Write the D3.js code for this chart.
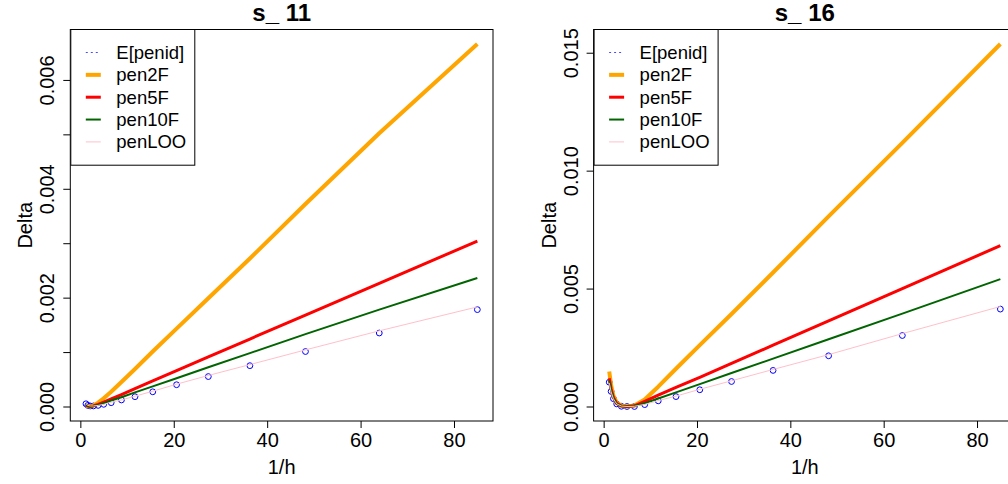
<!DOCTYPE html>
<html><head><meta charset="utf-8">
<script src="https://cdn.jsdelivr.net/npm/d3@7"></script>
<style>
html,body{margin:0;padding:0;background:#fff;}
svg{display:block;font-family:"Liberation Sans",Arial,Helvetica,sans-serif;}
</style></head>
<body><svg id="c" width="1008" height="484"></svg>
<script>
// ---- data ----
const xVals = [1.2, 1.6, 2.1, 2.8, 3.8, 5.0, 6.6, 8.8, 11.7, 15.5, 20.6, 27.4, 36.3, 48.2, 64, 85];

// panel s_ 11
const s11_Epenid = [0.00005,0.00002,0.00001,0.00001,0.00002,0.00004,0.00007,0.00012,0.00018,0.00027,0.00040,0.00055,0.00075,0.00101,0.00135,0.00178];
const s11_pen2F  = [0.00002,0.00001,0.00000,0.00002,0.00007,0.00015,0.00027,0.00045,0.00069,0.00101,0.00143,0.00199,0.00272,0.00372,0.00502,0.00666];
const s11_pen5F  = [0.00003,0.00001,0.00000,0.00001,0.00004,0.00008,0.00014,0.00022,0.00033,0.00047,0.00066,0.00091,0.00124,0.00168,0.00226,0.00304];
const s11_pen10F = [0.00003,0.00001,0.00000,0.00001,0.00003,0.00006,0.00011,0.00017,0.00026,0.00037,0.00052,0.00072,0.00098,0.00133,0.00178,0.00236];
const s11_penLOO = [0.00005,0.00002,0.00001,0.00001,0.00002,0.00004,0.00008,0.00012,0.00019,0.00028,0.00041,0.00057,0.00077,0.00104,0.00139,0.00183];

// panel s_ 16
const s16_Epenid = [0.00103,0.00064,0.00033,0.00011,0.00001,0.00000,0.00000,0.00008,0.00024,0.00042,0.00071,0.00106,0.00153,0.00215,0.00301,0.00413];
const s16_pen2F  = [0.00148,0.00090,0.00045,0.00016,0.00003,0.00000,0.00004,0.00030,0.00084,0.00160,0.00260,0.00392,0.00568,0.00806,0.01118,0.01537];
const s16_pen5F  = [0.00120,0.00075,0.00038,0.00013,0.00002,0.00000,0.00003,0.00022,0.00048,0.00081,0.00124,0.00183,0.00260,0.00363,0.00500,0.00682];
const s16_pen10F = [0.00110,0.00070,0.00036,0.00012,0.00002,0.00000,0.00002,0.00014,0.00034,0.00060,0.00095,0.00142,0.00203,0.00285,0.00394,0.00540];
const s16_penLOO = [0.00100,0.00062,0.00032,0.00011,0.00002,0.00000,0.00001,0.00009,0.00025,0.00044,0.00073,0.00109,0.00157,0.00220,0.00309,0.00424];

const xTicks = [0, 20, 40, 60, 80];
const s11_yTicks  = [0, 0.001, 0.002, 0.003, 0.004, 0.005, 0.006];
const s11_yLabels = ["0.000", "", "0.002", "", "0.004", "", "0.006"];
const s16_yTicks  = [0, 0.005, 0.010, 0.015];
const s16_yLabels = ["0.000", "0.005", "0.010", "0.015"];

const seriesNames = ["E[penid]", "pen2F", "pen5F", "pen10F", "penLOO"];
const seriesColors = ["#0000FF", "#FFA500", "#FF0000", "#006400", "#FFC0CB"];
const seriesWidths = [1, 4, 3, 2, 1];

const panels = [
  {title: "s_ 11", E: s11_Epenid, lines: [s11_pen2F, s11_pen5F, s11_pen10F, s11_penLOO], yTicks: s11_yTicks, yLabels: s11_yLabels},
  {title: "s_ 16", E: s16_Epenid, lines: [s16_pen2F, s16_pen5F, s16_pen10F, s16_penLOO], yTicks: s16_yTicks, yLabels: s16_yLabels}
];

// ---- layout ----
const boxes = [{l: 70.3, r: 493}, {l: 593.6, r: 1016}];
const plotTop = 29.5, plotBottom = 421;
const svg = d3.select("#c");

function padDomain(ext) { const r = ext[1] - ext[0]; return [ext[0] - 0.04 * r, ext[1] + 0.04 * r]; }

panels.forEach((p, i) => {
  const b = boxes[i];
  const x = d3.scaleLinear().domain(padDomain(d3.extent(xVals))).range([b.l, b.r]);
  const allY = [].concat(p.E, ...p.lines);
  const y = d3.scaleLinear().domain(padDomain(d3.extent(allY))).range([plotBottom, plotTop]);
  const g = svg.append("g");

  // points E[penid]
  g.append("g").selectAll("circle").data(xVals).join("circle")
    .attr("cx", (d) => x(d)).attr("cy", (d, k) => y(p.E[k])).attr("r", 2.9)
    .attr("fill", "none").attr("stroke", seriesColors[0]).attr("stroke-width", 1);

  // lines
  p.lines.forEach((arr, j) => {
    const line = d3.line().x((d) => x(d)).y((d, k) => y(arr[k]));
    g.append("path").datum(xVals).attr("d", line)
      .attr("fill", "none").attr("stroke", seriesColors[j + 1])
      .attr("stroke-width", seriesWidths[j + 1]).attr("stroke-linejoin", "round");
  });

  // x axis
  const xa = g.append("g").attr("transform", `translate(0,${plotBottom})`)
    .call(d3.axisBottom(x).tickValues(xTicks).tickSize(7).tickFormat(d3.format("d")));
  xa.select(".domain").remove();
  xa.selectAll("line").attr("stroke", "#000");
  xa.selectAll("text").attr("y", 26).attr("dy", null).attr("fill", "#000")
    .style("font-size", "20px").style("font-family", "Liberation Sans, Arial, sans-serif");

  // y axis
  const ya = g.append("g").attr("transform", `translate(${b.l},0)`)
    .call(d3.axisLeft(y).tickValues(p.yTicks).tickSize(7).tickFormat((d, k) => p.yLabels[k]));
  ya.select(".domain").remove();
  ya.selectAll("line").attr("stroke", "#000");
  ya.selectAll("text").attr("x", null).attr("dy", null)
    .attr("transform", "translate(-16,0) rotate(-90)").attr("text-anchor", "middle").attr("fill", "#000")
    .style("font-size", "20px").style("font-family", "Liberation Sans, Arial, sans-serif");

  // box
  g.append("rect").attr("x", b.l).attr("y", plotTop).attr("width", b.r - b.l).attr("height", plotBottom - plotTop)
    .attr("fill", "none").attr("stroke", "#000").attr("stroke-width", 1);

  // title
  g.append("text").attr("x", (b.l + b.r) / 2).attr("y", 21).attr("text-anchor", "middle")
    .style("font-size", "24px").style("font-weight", "bold").text(p.title);

  // axis titles
  g.append("text").attr("x", (b.l + b.r) / 2).attr("y", 474).attr("text-anchor", "middle")
    .style("font-size", "20px").text("1/h");
  g.append("text").attr("transform", `translate(${b.l - 38},${(plotTop + plotBottom) / 2}) rotate(-90)`)
    .attr("text-anchor", "middle").style("font-size", "20px").text("Delta");

  // legend
  const lg = g.append("g").attr("transform", `translate(${b.l},${plotTop})`);
  lg.append("rect").attr("x", 0.5).attr("y", 0).attr("width", 124).attr("height", 135.7)
    .attr("fill", "#fff").attr("stroke", "#000").attr("stroke-width", 1);
  seriesNames.forEach((name, k) => {
    const yy = 23 + k * 22.35;
    lg.append("line").attr("x1", 15.5).attr("x2", 30.5).attr("y1", yy).attr("y2", yy)
      .attr("stroke", seriesColors[k]).attr("stroke-width", seriesWidths[k])
      .attr("stroke-opacity", k === 0 ? 0.7 : 1)
      .attr("stroke-dasharray", k === 0 ? "2,3" : null);
    lg.append("text").attr("x", 46).attr("y", yy + 6.5).style("font-size", "18.5px").text(name);
  });
});
</script></body></html>
